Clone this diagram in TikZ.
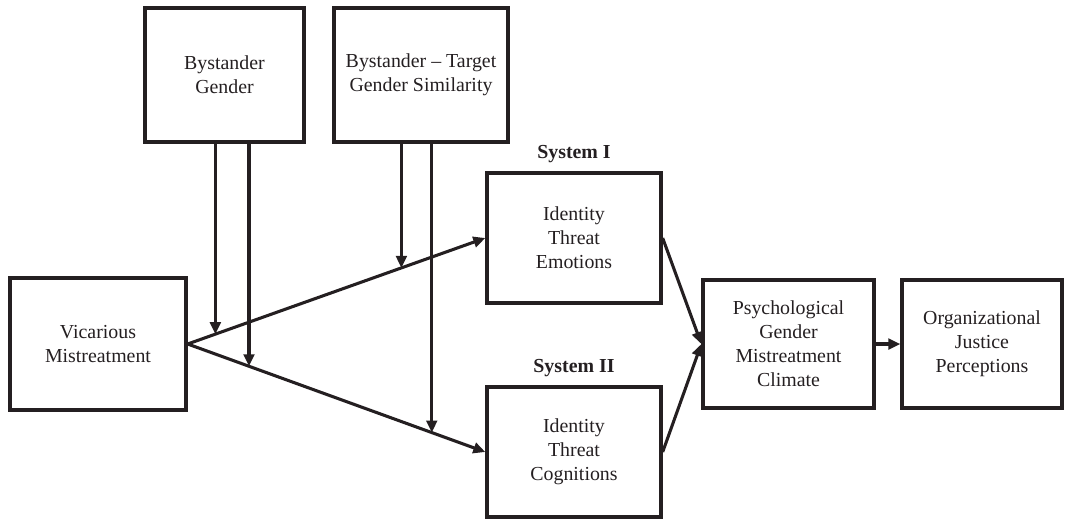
\documentclass[tikz,border=0pt]{standalone}
\usepackage{fontspec}
\setmainfont{Liberation Serif}
\usetikzlibrary{calc,positioning,arrows.meta}
\definecolor{inkgray}{rgb}{0.14,0.12,0.13}
\tikzset{box/.style={draw,line width=2.5pt,align=center,inner sep=0pt,font=\fontsize{14.9}{18}\selectfont},
  link/.style={->,line width=2.3pt},
  syslabel/.style={inner sep=0pt,font=\fontsize{14.9}{18}\selectfont\bfseries}}

\begin{document}
\begin{tikzpicture}[color=inkgray,line join=miter,>={Triangle[length=9pt,width=8pt]},x=0.75pt,y=-0.75pt]
\useasboundingbox (0,0) rectangle (1069,521);
% boxes
\node[box,minimum width=119.25pt,minimum height=100.5pt] (bg) at (224.5,75) {Bystander\\Gender};
\node[box,minimum width=130.5pt,minimum height=100.5pt] (bts) at (421,75) {Bystander -- Target\\Gender Similarity};
\node[box,minimum width=132pt,minimum height=99pt] (vm) at (98,344) {Vicarious\\Mistreatment};
\node[box,minimum width=130.5pt,minimum height=97.5pt] (ite) at (574,238) {Identity\\Threat\\Emotions};
\node[box,minimum width=130.5pt,minimum height=97.5pt] (itc) at (574,452) {Identity\\Threat\\Cognitions};
\node[box,minimum width=128.25pt,minimum height=96pt] (pgm) at (788.5,344) {Psychological\\Gender\\Mistreatment\\Climate};
\node[box,minimum width=120pt,minimum height=96pt] (ojp) at (982,344) {Organizational\\Justice\\Perceptions};
\node[syslabel,above=6pt of ite] (sys1) {System I};
\node[syslabel,above=6pt of itc] (sys2) {System II};
% main paths
\draw[link] (vm.east) -- (ite.west);
\draw[link] (vm.east) -- (itc.west);
\draw[link] (ite.east) -- (pgm.west);
\draw[link] (itc.east) -- (pgm.west);
\draw[link] (pgm.east) -- (ojp.west);
% moderators
\coordinate (m1) at ($(vm.east)!0.093!(ite.west)$);
\coordinate (m2) at ($(vm.east)!0.206!(itc.west)$);
\coordinate (m3) at ($(vm.east)!0.718!(ite.west)$);
\coordinate (m4) at ($(vm.east)!0.82!(itc.west)$);
\draw[link] (m1 |- bg.south) -- (m1);
\draw[link] (m2 |- bg.south) -- (m2);
\draw[link] (m3 |- bts.south) -- (m3);
\draw[link] (m4 |- bts.south) -- (m4);
\end{tikzpicture}
\end{document}
